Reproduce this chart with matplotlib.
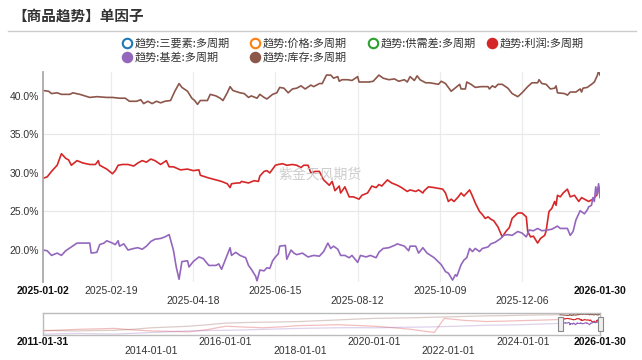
import numpy as np
import pandas as pd
import matplotlib
matplotlib.use('Agg')
import matplotlib.pyplot as plt
from matplotlib.lines import Line2D
from matplotlib.patches import Rectangle
from matplotlib import transforms

# ---- data: days since 2025-01-02 ----
start_date = '2025-01-02'
end_date = '2026-01-30'

red_day = [0, 3, 6, 10, 13, 16, 18, 20, 24, 28, 33, 37, 39, 40, 45, 49, 51, 53, 56, 60,
           64, 67, 70, 73, 76, 79, 83, 87, 89, 92, 97, 102, 106, 110, 111, 116, 120, 126, 130, 132,
           133, 137, 139,
           140, 145, 149, 152, 153, 156, 158, 160, 164, 166, 169, 172, 176, 179, 182, 184, 187, 189, 192, 195,
           198, 202, 204, 206, 209, 210, 213, 216, 219, 223, 225, 229, 232, 235, 237, 239, 243, 246, 250, 253,
           257, 259, 263, 265, 268,
           269, 272, 276, 282, 284, 286, 288, 290, 293, 295, 297, 301, 303, 305, 308, 310, 312, 314, 316, 318,
           321, 324, 327, 329, 331, 335, 338, 341, 342, 344, 346, 349, 351, 354, 355, 357, 359, 361, 362, 363,
           365, 367, 370, 372, 375, 378, 380, 383, 385, 388, 391, 392, 393]
red_val = [29.3, 29.5, 30.2, 31.0, 32.5, 31.9, 31.7, 31.0, 31.6, 31.3, 31.1, 31.1, 31.6, 31.0, 30.5, 29.9, 30.3, 31.0, 31.1, 31.1,
           30.9, 31.3, 31.6, 31.4, 31.8, 31.6, 31.1, 31.6, 30.8, 30.8, 30.4, 30.5, 30.3, 30.4, 29.7, 29.4, 29.2, 28.9, 28.6, 28.1,
           28.6, 28.7, 28.7,
           28.9, 28.7, 29.0, 28.9, 29.6, 30.2, 30.3, 30.0, 31.0, 31.1, 31.2, 31.0, 31.1, 31.0, 30.7, 31.0, 31.0, 30.0, 30.2, 30.2,
           29.1, 28.4, 28.9, 27.7, 28.3, 27.4, 28.2, 26.9, 26.9, 26.6, 27.1, 27.4, 28.3, 28.1, 28.5, 28.3, 29.1, 28.7, 28.4, 28.1,
           27.6, 27.8, 27.6, 27.8, 27.4,
           27.7, 28.2, 28.1, 27.9, 27.4, 26.3, 26.6, 26.3, 26.9, 27.4, 27.0, 27.8, 27.0, 26.1, 25.0, 24.6, 24.1, 24.3, 24.0, 23.8,
           23.0, 21.7, 22.5, 22.9, 24.1, 24.8, 24.8, 24.3, 22.4, 21.7, 21.8, 20.9, 21.5, 21.9, 22.5, 25.0, 25.4, 26.3, 25.8, 27.1,
           26.9, 27.4, 27.9, 26.9, 27.1, 26.3, 26.8, 26.5, 26.3, 26.6, 27.2, 28.2, 27.6]

purple_day = [0, 3, 6, 10, 13, 16, 20, 24, 28, 33, 34, 38, 40, 43, 45, 49, 51, 53, 54, 57,
              60, 64, 67, 70, 73, 76, 79, 83, 86, 89, 92, 94, 96, 98, 102, 103, 106, 110, 113, 117,
              122, 124, 126, 129, 132, 133, 136, 139,
              143, 145, 147, 150, 151, 153, 156, 158, 160, 162, 164, 166, 167, 171, 172, 175, 177, 179, 183, 187,
              191, 195, 198, 201, 203, 205, 208, 210, 213, 216, 218, 222, 224, 228, 231, 235, 237, 240, 244, 248,
              250, 255, 258, 259, 263, 265, 268,
              271, 276, 281, 284, 286, 289, 291, 292, 295, 297, 299, 301, 303, 305, 308, 310, 314, 316, 319, 323,
              325, 328, 331, 335, 338, 341, 343, 346, 349, 352, 356, 359, 363, 365, 370, 372, 374, 376, 379, 382,
              384, 385, 387, 388, 389, 390, 391, 392, 393]
purple_val = [20.0, 19.9, 19.3, 19.6, 19.3, 19.9, 20.4, 20.9, 20.9, 20.9, 19.6, 19.7, 20.7, 20.9, 21.2, 20.9, 20.7, 21.2, 20.5, 20.8,
              20.0, 20.2, 20.3, 20.1, 20.5, 21.1, 21.4, 21.5, 21.7, 22.0, 20.0, 17.8, 16.2, 18.5, 18.6, 17.8, 18.5, 19.1, 18.9, 18.0,
              18.0, 18.2, 17.5, 18.9, 20.3, 19.3, 19.7, 19.3,
              19.0, 18.0, 17.5, 16.6, 16.0, 17.4, 17.3, 17.7, 17.6, 18.6, 19.1, 19.5, 20.5, 20.6, 18.8, 20.0, 19.6, 19.4, 19.6, 19.1,
              19.3, 19.2, 19.8, 20.9, 20.2, 20.5, 20.1, 19.3, 19.3, 19.0, 19.3, 18.4, 19.3, 19.1, 19.3, 19.0, 19.7, 20.2, 20.3, 20.6,
              20.8, 20.5, 19.9, 20.5, 20.5, 19.6, 20.3,
              19.6, 19.0, 18.1, 17.2, 17.0, 16.1, 16.8, 16.6, 18.1, 18.7, 19.0, 20.2, 19.8, 20.2, 19.8, 20.2, 20.4, 20.8, 21.0, 21.5,
              21.9, 22.0, 21.9, 22.4, 22.2, 21.7, 22.6, 22.5, 22.8, 22.5, 22.6, 22.7, 23.1, 22.8, 22.8, 21.9, 22.4, 23.9, 25.1, 24.7,
              25.2, 25.6, 25.8, 26.8, 26.3, 28.2, 27.2, 28.6, 26.8]

brown_day = [0, 4, 6, 10, 13, 19, 21, 26, 33, 38, 45, 49, 54, 58, 61, 66, 69, 71, 74, 77,
             80, 83, 86, 90, 93, 96, 98, 102, 105, 107, 109, 111, 116, 118, 122, 125, 127, 130, 132, 134,
             139,
             142, 145, 147, 151, 153, 156, 158, 162, 165, 167, 170, 173, 176, 179, 182, 185, 189, 191, 195, 197,
             200, 203, 205, 208, 209, 211, 215, 218, 222, 223, 226, 230, 233, 237, 240, 244, 248, 251, 255, 257,
             259, 262, 264, 266, 270,
             273, 279, 281, 284, 288, 290, 292, 294, 295, 298, 299, 302, 305, 309, 314, 315, 317, 319, 321, 324,
             328, 331, 335, 338, 342, 345, 349, 350, 352, 355, 358, 361, 362, 363, 368, 370, 372, 376, 379, 380,
             381, 384, 387, 389, 391, 392, 393]
brown_val = [40.7, 40.6, 40.3, 40.4, 40.2, 40.2, 40.4, 40.2, 39.8, 39.9, 39.8, 39.8, 39.7, 39.7, 39.3, 39.3, 39.5, 39.0, 39.3, 39.0,
             39.3, 39.1, 39.3, 39.4, 40.6, 41.6, 41.1, 40.6, 39.7, 39.4, 38.9, 39.4, 39.4, 40.2, 40.0, 39.7, 39.4, 40.4, 41.2, 40.7,
             40.4,
             40.3, 39.8, 40.0, 39.7, 40.2, 39.8, 39.6, 40.2, 40.4, 41.1, 41.0, 40.4, 40.9, 41.0, 41.3, 40.9, 41.4, 41.2, 41.6, 41.6,
             42.7, 42.7, 42.3, 42.5, 41.9, 42.1, 42.1, 42.0, 42.5, 41.8, 41.8, 41.8, 41.9, 42.7, 42.3, 42.1, 42.2, 41.9, 42.1, 41.8,
             42.5, 42.0, 42.6, 42.1, 41.7,
             41.7, 41.5, 41.9, 41.6, 40.6, 40.9, 41.2, 41.5, 40.9, 40.9, 41.8, 41.5, 41.1, 41.2, 41.2, 40.9, 41.3, 41.1, 41.5, 41.5,
             41.0, 40.3, 39.9, 40.4, 41.2, 41.7, 41.7, 42.1, 41.6, 41.5, 40.9, 41.0, 41.3, 40.4, 40.3, 40.1, 40.5, 40.5, 40.9, 40.5,
             41.0, 41.1, 41.5, 41.8, 42.6, 43.2, 42.7]

# overview (slider) history before the zoom window, rough reading
ov_start = '2011-01-31'
ov_dates = ['2011-01-31', '2011-07-01', '2012-01-01', '2012-07-01', '2013-01-01', '2013-07-01', '2014-01-01',
            '2014-07-01', '2015-01-01', '2015-07-01', '2016-01-01', '2016-07-01', '2017-01-01', '2017-07-01',
            '2018-01-01', '2018-07-01', '2019-01-01', '2019-07-01', '2020-01-01', '2020-07-01', '2021-01-01',
            '2021-05-01', '2021-08-15', '2021-11-20', '2022-06-01', '2023-01-01', '2023-07-01', '2024-01-01',
            '2024-07-01', '2024-12-31']
ov_red = [1.0, 3.0, 4.8, 6.0, 7.2, 3.5, 1.0, 0.0, -1.3, 4.0, 12.5, 10.5, 8.7, 11.0, 14.1, 15.0, 16.4, 14.5,
          12.5, 9.0, 4.8, 0.5, -2.8, 31.8, 27.0, 24.1, 25.0, 26.4, 27.5, 29.0]
ov_purple = [-6.7, -6.0, -5.2, -6.0, -6.7, -5.0, -2.8, -1.0, 1.0, 2.0, 2.5, 3.5, 4.8, 6.0, 7.2, 8.0, 8.7, 9.0,
             8.7, 9.5, 10.2, 10.6, 11.0, 11.8, 13.0, 14.9, 15.5, 16.4, 18.0, 19.5]
ov_brown = [2.5, 1.5, 1.0, 2.0, 2.5, 5.0, 8.7, 10.5, 12.5, 16.0, 20.2, 21.5, 22.5, 23.0, 24.1, 26.0, 27.9, 30.0,
            31.8, 32.5, 33.3, 34.0, 34.8, 35.3, 36.5, 37.9, 38.5, 39.5, 40.2, 40.7]

main_ticks = ['2025-02-19', '2025-04-18', '2025-06-15', '2025-08-12', '2025-10-09', '2025-12-06']
ov_ticks = ['2014-01-01', '2016-01-01', '2018-01-01', '2020-01-01', '2022-01-01', '2024-01-01']
y_ticks = [20, 25, 30, 35, 40]

legend_items = [('趋势:三要素:多周期', '#1f77b4', False), ('趋势:价格:多周期', '#ff7f0e', False),
                ('趋势:供需差:多周期', '#2ca02c', False), ('趋势:利润:多周期', '#d62728', True),
                ('趋势:基差:多周期', '#9467bd', True), ('趋势:库存:多周期', '#8c564b', True)]

RED, PURPLE, BROWN = '#d62728', '#9467bd', '#8c564b'
CJK = ['Noto Sans CJK SC', 'DejaVu Sans']
NUM = ['Liberation Sans', 'DejaVu Sans']

W, H = 642, 360
fig = plt.figure(figsize=(W / 100, H / 100), dpi=100)


def fx(px):
    return px / W


def fy(py):
    return 1 - py / H


# title + separator
fig.text(fx(12), fy(16), '【商品趋势】单因子', family=CJK, weight='bold', fontsize=10.5,
         color='#333333', va='center', ha='left')
fig.add_artist(Line2D([fx(8), fx(636)], [fy(31), fy(31)], color='#cccccc', lw=1))

# legend, drawn by hand (two rows)
leg_pos = [(127, 43), (255, 43), (373, 43), (492, 43), (127, 57), (255, 57)]
for (lab, col, filled), (px, py) in zip(legend_items, leg_pos):
    fig.add_artist(Line2D([fx(px)], [fy(py)], marker='o', markersize=6.8,
                          markerfacecolor=col if filled else 'white', markeredgecolor=col,
                          markeredgewidth=1.5, linestyle='none'))
    fig.text(fx(px + 8), fy(py), lab, family=CJK, fontsize=8, color='#333333', va='center', ha='left')

# main plot
base = pd.Timestamp(start_date)
n_days = (pd.Timestamp(end_date) - base).days
ax = fig.add_axes([fx(43), fy(282), fx(600) - fx(43), (282 - 72) / H])
ax.plot(red_day, red_val, color=RED, lw=1.2)
ax.plot(purple_day, purple_val, color=PURPLE, lw=1.2)
ax.plot(brown_day, brown_val, color=BROWN, lw=1.2)
ax.set_xlim(0, n_days)
ax.set_ylim(15.85, 43.1)

tick_days = [(pd.Timestamp(d) - base).days for d in main_ticks]
for d in tick_days:
    ax.axvline(d, color='#ececec', lw=0.9, zorder=0)
for v in (25, 35):
    ax.axhline(v, color='#e8e8e8', lw=0.9, zorder=0)

for s in ('top', 'right', 'bottom'):
    ax.spines[s].set_visible(False)
ax.spines['left'].set_color('#aaaaaa')
ax.spines['left'].set_linewidth(1.3)
ax.set_xticks([])
ax.set_yticks(y_ticks)
ax.set_yticklabels([f'{v:.1f}%' for v in y_ticks], family=NUM, fontsize=7.5, color='#333333')
ax.tick_params(axis='y', length=0, pad=3)

tr = transforms.blended_transform_factory(ax.transData, fig.transFigure)
fig.text(0, fy(291), start_date, transform=tr, family=NUM, fontsize=7.5, weight='bold',
         color='#111111', ha='center', va='center')
fig.text(n_days, fy(291), end_date, transform=tr, family=NUM, fontsize=7.5, weight='bold',
         color='#111111', ha='center', va='center')
for i, (d, lab) in enumerate(zip(tick_days, main_ticks)):
    fig.text(d, fy(291) if i % 2 == 0 else fy(300.5), lab, transform=tr, family=NUM, fontsize=7.5,
             color='#333333', ha='center', va='center')

fig.text(fx(320), fy(175), '紫金天风期货', family=CJK, fontsize=10, color='#c8c8c8',
         ha='center', va='center', alpha=0.9)

# data zoom slider
ov_base = pd.Timestamp(ov_start)
ov_x = [(pd.Timestamp(d) - ov_base).days for d in ov_dates]
off = (base - ov_base).days
ov_total = (pd.Timestamp(end_date) - ov_base).days
sax = fig.add_axes([fx(43), fy(335), fx(600) - fx(43), 22 / H])
for xs, ys, c in ((ov_x, ov_red, RED), (ov_x, ov_purple, PURPLE), (ov_x, ov_brown, BROWN)):
    sax.plot(xs + [off], ys + [ys[-1]], color=c, lw=0.9, alpha=0.3)
sax.plot(np.array(red_day) + off, red_val, color=RED, lw=0.8)
sax.plot(np.array(purple_day) + off, purple_val, color=PURPLE, lw=0.8)
sax.plot(np.array(brown_day) + off, brown_val, color=BROWN, lw=0.8)
sax.set_xlim(0, ov_total)
sax.set_ylim(-9, 45)
sax.set_xticks([])
sax.set_yticks([])
for s in sax.spines.values():
    s.set_color('#bbbbbb')
    s.set_linewidth(1)

htr = transforms.blended_transform_factory(sax.transData, sax.transAxes)
hw = ov_total * 5 / 557
for hx in (off, ov_total):
    sax.add_patch(Rectangle((hx - hw / 2, 0.2), hw, 0.6, transform=htr, facecolor='#eeeeee',
                            edgecolor='#888888', lw=0.8, clip_on=False, zorder=5))

str_ = transforms.blended_transform_factory(sax.transData, fig.transFigure)
fig.text(0, fy(342), ov_start, transform=str_, family=NUM, fontsize=7.5, weight='bold',
         color='#111111', ha='center', va='center')
fig.text(ov_total, fy(342), end_date, transform=str_, family=NUM, fontsize=7.5, weight='bold',
         color='#111111', ha='center', va='center')
for i, lab in enumerate(ov_ticks):
    d = (pd.Timestamp(lab) - ov_base).days
    fig.text(d, fy(351.5) if i % 2 == 0 else fy(342), lab, transform=str_, family=NUM, fontsize=7.5,
             color='#333333', ha='center', va='center')

fig.savefig('out.png', dpi=100)
